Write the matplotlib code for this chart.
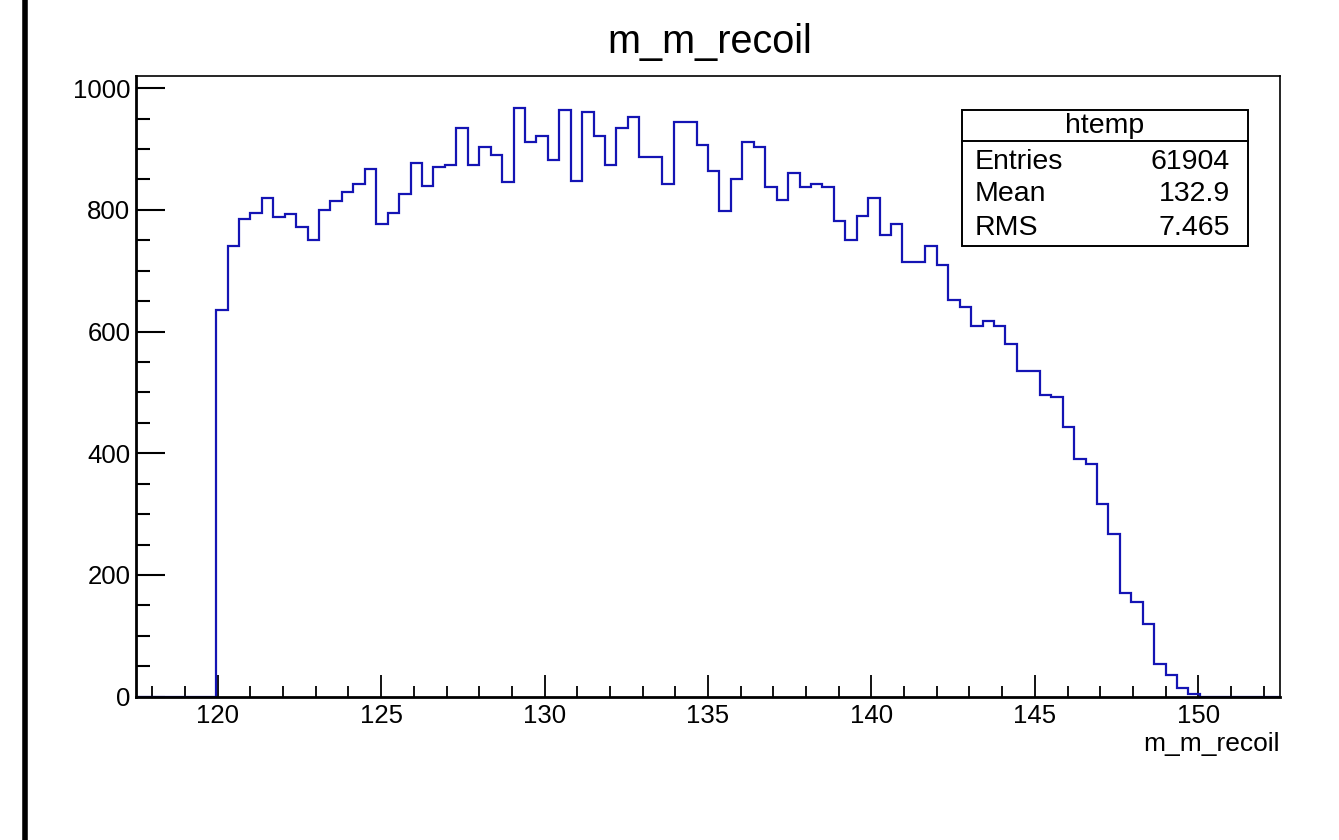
import numpy as np
import matplotlib
matplotlib.use("Agg")
import matplotlib.pyplot as plt
from matplotlib.lines import Line2D
from matplotlib.patches import Rectangle
from matplotlib.ticker import MultipleLocator

plt.rcParams['font.family'] = ['Liberation Sans', 'DejaVu Sans']

# histogram definition: 100 bins from 117.5 to 152.5
n_bins = 100
x_low, x_high = 117.5, 152.5
first_bin = 7
counts_nonzero = [
    636, 741, 785, 795, 819, 789, 794, 772, 751, 799,
    815, 829, 843, 867, 777, 795, 826, 877, 840, 870,
    874, 934, 873, 903, 890, 846, 968, 912, 921, 882,
    964, 847, 961, 921, 874, 935, 952, 887, 887, 843,
    944, 944, 907, 864, 798, 851, 912, 904, 838, 816,
    860, 838, 842, 838, 781, 751, 790, 819, 759, 776,
    715, 715, 741, 710, 652, 641, 609, 618, 609, 579,
    536, 536, 495, 492, 444, 390, 383, 316, 267, 171,
    155, 120, 53, 35, 14, 4,
]
hist_name = "htemp"
var_name = "m_m_recoil"
stat_labels = ["Entries", "Mean", "RMS"]
stat_values = ["61904", "132.9", "7.465"]

counts = np.zeros(n_bins)
counts[first_bin:first_bin + len(counts_nonzero)] = counts_nonzero
edges = np.linspace(x_low, x_high, n_bins + 1)

W, H = 1339, 840
fig = plt.figure(figsize=(W / 100, H / 100), dpi=100)


def fx(px):
    return px / W


def fy(py):
    return 1 - py / H


ax_l, ax_r, ax_t, ax_b = 136, 1280, 76, 696.7
ax = fig.add_axes([fx(ax_l), fy(ax_b), (ax_r - ax_l) / W, (ax_b - ax_t) / H])

ax.stairs(counts, edges, baseline=0, color='#1414b4', linewidth=1.6, zorder=2)

ax.set_xlim(x_low, x_high)
ax.set_ylim(0, 1020)

ax.xaxis.set_major_locator(MultipleLocator(5))
ax.xaxis.set_minor_locator(MultipleLocator(1))
ax.yaxis.set_major_locator(MultipleLocator(200))
ax.yaxis.set_minor_locator(MultipleLocator(50))

ax.tick_params(axis='x', which='major', direction='in', length=16, width=1.3,
               labelsize=18.5, pad=5)
ax.tick_params(axis='x', which='minor', direction='in', length=8, width=1.3)
ax.tick_params(axis='y', which='major', direction='in', length=21, width=1.5,
               labelsize=18.5, pad=4)
ax.tick_params(axis='y', which='minor', direction='in', length=10, width=1.5)

ax.spines['left'].set_linewidth(2.0)
ax.spines['bottom'].set_linewidth(2.0)
ax.spines['top'].set_linewidth(1.2)
ax.spines['right'].set_linewidth(1.2)

fig.text(fx(710), fy(42), var_name, fontsize=28.5, ha='center', va='center')
fig.text(fx(1280), fy(744), var_name, fontsize=19, ha='right', va='center')

# stats box
bx0, bx1, by0, by1, by_div = 962, 1248, 110, 246, 141
fig.add_artist(Rectangle((fx(bx0), fy(by1)), (bx1 - bx0) / W, (by1 - by0) / H,
                         transform=fig.transFigure, fill=True, facecolor='white',
                         edgecolor='black', linewidth=1.4, zorder=5))
fig.add_artist(Line2D([fx(bx0), fx(bx1)], [fy(by_div), fy(by_div)],
                      transform=fig.transFigure, color='black', linewidth=1.4, zorder=6))
fig.text(fx((bx0 + bx1) / 2), fy(126), hist_name, fontsize=20.5, ha='center',
         va='center', zorder=7)
row_y = [162, 194, 228]
for lab, val, yy in zip(stat_labels, stat_values, row_y):
    fig.text(fx(975), fy(yy), lab, fontsize=20.5, ha='left', va='center', zorder=7)
    fig.text(fx(1230), fy(yy), val, fontsize=20.5, ha='right', va='center', zorder=7)

# left frame edge visible in the reference
fig.add_artist(Line2D([fx(25), fx(25)], [0, 1], transform=fig.transFigure,
                      color='black', linewidth=4))

fig.savefig("out.png", dpi=100)
